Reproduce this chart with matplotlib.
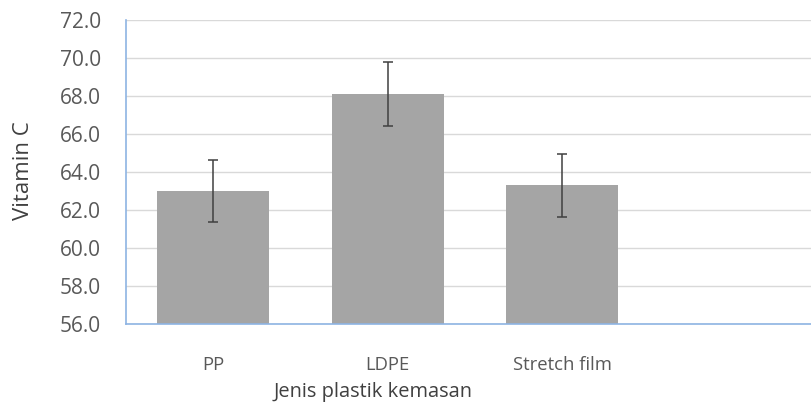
import matplotlib.pyplot as plt
import numpy as np

# values
categories = ["PP", "LDPE", "Stretch film"]
vitamin_c = [63.0, 68.1, 63.3]
errors = [1.65, 1.68, 1.64]
y_ticks = [56.0, 58.0, 60.0, 62.0, 64.0, 66.0, 68.0, 70.0, 72.0]

W, H = 811, 407
plt.rcParams['font.family'] = ['Open Sans', 'DejaVu Sans']

fig = plt.figure(figsize=(W / 100, H / 100), dpi=100)
# plot area: left 126px, bottom 324px, top 19.6px, runs off the right edge
left, right, top, bottom = 126, 830, 19.6, 324.3
ax = fig.add_axes([left / W, 1 - bottom / H, (right - left) / W, (bottom - top) / H])

x = np.arange(len(categories))
ax.bar(x, vitamin_c, width=0.64, color='#A5A5A5', zorder=2)
ax.errorbar(x, vitamin_c, yerr=errors, fmt='none', ecolor='#404040',
            elinewidth=1.1, capsize=3.6, capthick=1.1, zorder=3)

slot = 174.5  # px per category
ax.set_xlim(-0.5, -0.5 + (right - left) / slot)
ax.set_ylim(56, 72)
ax.set_yticks(y_ticks)
ax.set_yticklabels([f"{v:.1f}" for v in y_ticks])
ax.set_xticks(x)
ax.set_xticklabels(categories)

ax.yaxis.grid(True, color='#D9D9D9', linewidth=1.0, zorder=0)
ax.set_axisbelow(True)
for s in ['top', 'right']:
    ax.spines[s].set_visible(False)
for s in ['left', 'bottom']:
    ax.spines[s].set_color('#8EB4E3')
    ax.spines[s].set_linewidth(1.2)
ax.tick_params(axis='both', length=0, colors='#595959')
ax.tick_params(axis='x', pad=23, labelsize=13.3)
ax.tick_params(axis='y', pad=18, labelsize=15)

fig.text(24 / W, 1 - 171 / H, "Vitamin C", ha='center', va='center',
         rotation=90, fontsize=16, color='#404040')
fig.text(373 / W, 1 - 392 / H, "Jenis plastik kemasan", ha='center', va='center',
         fontsize=14.4, color='#404040')

fig.savefig("out.png", dpi=100)
